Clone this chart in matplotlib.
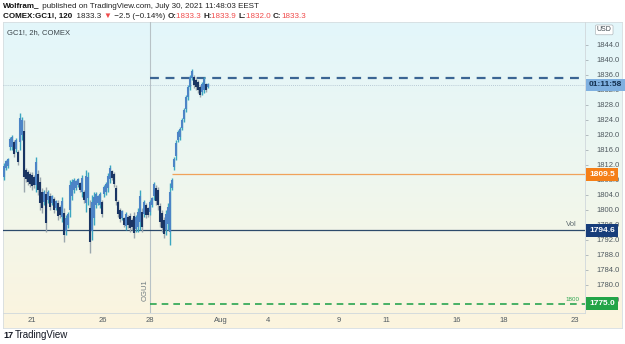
import numpy as np
import matplotlib.pyplot as plt
from matplotlib.colors import LinearSegmentedColormap
from matplotlib.transforms import blended_transform_factory

W, H = 625, 344

# 2h bars, GC1! (COMEX)
highs = [1812.5, 1813.3, 1813.9, 1819.5, 1820.0, 1818.7, 1819.2, 1816.0, 1825.9, 1824.8,
         1824.0, 1811.2, 1810.7, 1810.1, 1810.1, 1809.3, 1814.1, 1810.7, 1808.8, 1805.9,
         1805.3, 1806.1, 1805.3, 1804.5, 1804.0, 1803.5, 1802.7, 1802.7, 1801.3, 1803.5,
         1800.5, 1798.7, 1799.5, 1808.0, 1808.3, 1808.5, 1808.0, 1808.5, 1807.5, 1809.3,
         1805.3, 1810.7, 1810.1, 1802.7, 1804.0, 1804.8, 1804.8, 1804.0, 1804.8, 1802.7,
         1806.7, 1807.5, 1809.9, 1812.0, 1810.7, 1810.1, 1806.7, 1802.7, 1800.5, 1800.0,
         1798.1, 1799.5, 1798.7, 1799.2, 1797.9, 1799.5, 1798.7, 1800.5, 1805.3, 1800.5,
         1802.7, 1801.9, 1800.8, 1802.7, 1803.5, 1807.5, 1806.7, 1806.1, 1801.9, 1800.0,
         1798.1, 1800.0, 1801.9, 1807.2, 1808.5, 1814.1, 1818.7, 1821.3, 1822.1, 1824.5,
         1827.2, 1830.7, 1833.3, 1836.0, 1837.6, 1836.0, 1835.2, 1834.7, 1833.3, 1834.1,
         1835.5, 1833.9, 1833.9]
lows = [1808.0, 1810.7, 1811.2, 1816.0, 1816.0, 1814.1, 1815.5, 1812.0, 1816.0, 1818.7,
        1804.8, 1807.5, 1806.7, 1806.1, 1805.3, 1805.9, 1804.8, 1804.0, 1800.0, 1799.2,
        1801.3, 1794.1, 1801.9, 1800.0, 1801.3, 1799.2, 1800.0, 1797.3, 1797.9, 1796.8,
        1791.5, 1793.3, 1795.2, 1798.1, 1802.7, 1804.5, 1805.3, 1806.1, 1804.8, 1803.5,
        1801.9, 1799.5, 1801.3, 1788.5, 1792.0, 1796.0, 1800.5, 1801.3, 1800.5, 1798.1,
        1803.5, 1804.0, 1804.8, 1807.2, 1808.0, 1806.1, 1801.3, 1798.1, 1796.8, 1797.3,
        1795.5, 1794.7, 1795.2, 1794.1, 1794.7, 1792.5, 1794.1, 1794.1, 1794.7, 1794.1,
        1798.1, 1797.9, 1798.1, 1798.7, 1800.8, 1802.7, 1801.3, 1800.0, 1795.5, 1794.1,
        1792.5, 1793.3, 1794.7, 1790.7, 1805.3, 1810.7, 1813.3, 1818.1, 1818.7, 1821.3,
        1823.5, 1826.1, 1829.3, 1832.0, 1834.7, 1832.5, 1832.0, 1831.2, 1830.1, 1830.7,
        1831.2, 1831.5, 1832.5]

day_labels = ["21", "26", "28", "Aug", "4", "9", "11", "16", "18", "23"]
day_offsets = [0, 3, 5, 8, 10, 13, 15, 18, 20, 23]   # trading days after Jul 21
bars_per_day = 11.8
first_tick_bar = 14

price_ticks = np.arange(1776, 1845, 4)
last_price = 1833.3
dash_level = 1835.2
orange_level = 1809.5
vol_level = 1794.6
green_level = 1775.0

plt.rcParams['font.family'] = ['Liberation Sans', 'DejaVu Sans']
fig = plt.figure(figsize=(W / 100, H / 100), dpi=100)

# background gradient over the chart pane
bg = fig.add_axes([3 / W, 1 - 328 / H, 619 / W, 306 / H])
cmap = LinearSegmentedColormap.from_list('tv', ['#e3f6fb', '#eef7ef', '#fcf4de'])
bg.imshow(np.linspace(0, 1, 256).reshape(-1, 1), aspect='auto', cmap=cmap, extent=[0, 1, 0, 1])
bg.set_xlim(0, 1)
bg.set_ylim(0, 1)
bg.set_xticks([])
bg.set_yticks([])
for s in bg.spines.values():
    s.set_color('#d6dde0')
    s.set_linewidth(0.6)

ax = fig.add_axes([3 / W, 1 - 313 / H, 582 / W, 291 / H])
ax.set_facecolor('none')
n = len(highs)
x = np.arange(n)
ax.set_xlim(-0.5, 290.5)
ax.set_ylim(1772.5, 1850.1)

mids = (np.array(highs) + np.array(lows)) / 2
for i in range(n):
    h, l = highs[i], lows[i]
    up = i == 0 or mids[i] >= mids[i - 1]
    r = h - l
    wick = '#3aa6c0' if up else '#9aa6ad'
    body = '#4c84c6' if up else '#1a3563'
    ax.vlines(x[i], l, h, color=wick, lw=1.0, zorder=3)
    ax.vlines(x[i], l + 0.2 * r, h - 0.15 * r, color=body, lw=1.5, zorder=4)

ticks = [first_tick_bar + d * bars_per_day for d in day_offsets]
mark_x = ticks[2]
xr = ax.get_xlim()[1]

ax.axvline(mark_x, color='#b8c2c6', lw=0.8, zorder=2)
ax.axhline(last_price, color='#a9bccb', lw=0.6, ls=(0, (1, 1.5)), zorder=2)
ax.axhline(vol_level, color='#2b4a6b', lw=0.9, zorder=2)
ax.hlines(dash_level, mark_x, xr, color='#3b6593', lw=1.6, linestyles=(0, (4, 3)), zorder=2)
ax.hlines(orange_level, 84, xr, color='#f0a25a', lw=0.9, zorder=2)
ax.hlines(green_level, mark_x, xr, color='#2aa550', lw=1.2, linestyles=(0, (4, 3)), zorder=2)

ax.text(mark_x - 2.2, 1775.6, "OGU1", rotation=90, fontsize=5.5, color='#6e7a80',
        ha='center', va='bottom')
ax.text(xr - 4, vol_level + 0.6, "Vol", fontsize=5.5, color='#5e6a70', ha='right', va='bottom')
ax.text(xr - 3, green_level + 0.5, "1800", fontsize=4.5, color='#2aa550', ha='right', va='bottom')

ax.yaxis.tick_right()
ax.set_yticks(price_ticks)
ax.set_yticklabels([f"{p:.1f}" for p in price_ticks])
ax.tick_params(axis='y', labelsize=5.5, labelcolor='#505a60', color='#9aa4aa',
               length=2.5, width=0.5, pad=6)
ax.set_xticks(ticks)
ax.set_xticklabels(day_labels)
ax.tick_params(axis='x', labelsize=5.5, labelcolor='#505a60', length=0, pad=3)
for s in ['top', 'left']:
    ax.spines[s].set_visible(False)
ax.spines['right'].set_color('#d0d8dc')
ax.spines['bottom'].set_color('#d0d8dc')
ax.spines['right'].set_linewidth(0.6)
ax.spines['bottom'].set_linewidth(0.6)

# price boxes on the scale
tr = blended_transform_factory(ax.transAxes, ax.transData)
boxes = [(last_price, "01:11:58", '#7fb0e0', '#13304f'),
         (orange_level, f"{orange_level:.1f}", '#f57f17', 'white'),
         (vol_level, f"{vol_level:.1f}", '#173d7a', 'white'),
         (green_level, f"{green_level:.1f}", '#22a447', 'white')]
for lvl, txt, fc, tc in boxes:
    ax.text(1.007, lvl, txt, transform=tr, fontsize=6, color=tc, ha='left', va='center',
            fontweight='bold', clip_on=False, zorder=6,
            bbox=dict(boxstyle='square,pad=0.35', fc=fc, ec='none'))
ax.text(1.033, 1848.0, "USD", transform=tr, fontsize=5, color='#404a50', ha='center', va='center',
        clip_on=False, zorder=6,
        bbox=dict(boxstyle='round,pad=0.2', fc='white', ec='#b0b8bc', lw=0.5))

ax.text(0.007, 0.975, "GC1!, 2h, COMEX", transform=ax.transAxes, fontsize=5.5, color='#3a4348',
        ha='left', va='top')

# header lines
renderer = fig.canvas.get_renderer()


def seq_text(x0, y0, pieces, size):
    xp = x0
    for s, color, weight in pieces:
        t = fig.text(xp / W, 1 - y0 / H, s, color=color, fontweight=weight, fontsize=size,
                     ha='left', va='center')
        xp += t.get_window_extent(renderer=renderer).width


red = '#f04a4a'
seq_text(3, 6, [("Wolfram_", '#111111', 'bold'),
                (" published on TradingView.com, July 30, 2021 11:48:03 EEST", '#222222', 'normal')], 5.8)
seq_text(3, 16, [("COMEX:GC1!, 120", '#111111', 'bold'),
                 ("  1833.3 ", '#222222', 'normal'), ("▼", red, 'normal'),
                 (" −2.5 (−0.14%) ", '#222222', 'normal'),
                 ("O:", '#222222', 'bold'), ("1833.3 ", red, 'normal'),
                 ("H:", '#222222', 'bold'), ("1833.9 ", red, 'normal'),
                 ("L:", '#222222', 'bold'), ("1832.0 ", red, 'normal'),
                 ("C:", '#222222', 'bold'), ("1833.3", red, 'normal')], 5.8)

fig.text(3 / W, 1 - 335 / H, "17", fontsize=6.5, fontweight='bold', color='#131722', va='center')
fig.text(15 / W, 1 - 335 / H, "TradingView", fontsize=7, color='#131722', va='center')

fig.savefig("out.png", dpi=100)
